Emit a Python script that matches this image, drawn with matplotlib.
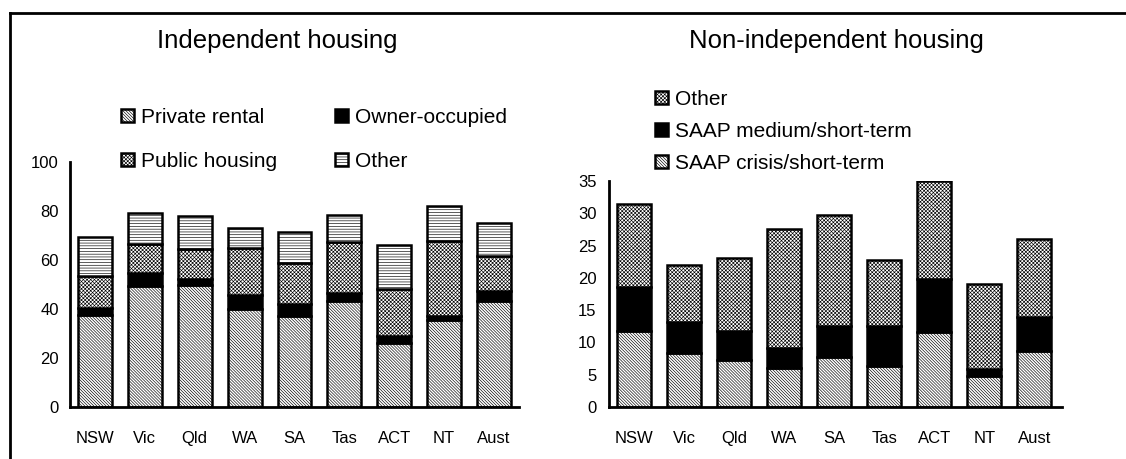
import numpy as np
import matplotlib
matplotlib.use('Agg')
import matplotlib.pyplot as plt
from matplotlib.lines import Line2D

plt.rcParams['font.family'] = ['Liberation Sans', 'DejaVu Sans']
plt.rcParams['hatch.linewidth'] = 0.45

states = ['NSW', 'Vic', 'Qld', 'WA', 'SA', 'Tas', 'ACT', 'NT', 'Aust']

# independent housing (%)
private_rental = [37.4, 49.4, 49.7, 39.9, 37.1, 43.3, 26.3, 35.4, 43.1]
owner_occupied = [3.1, 5.3, 2.7, 6.0, 4.8, 3.4, 2.8, 1.7, 4.1]
public_housing = [13.0, 12.0, 12.2, 19.1, 17.0, 20.6, 19.2, 30.7, 14.3]
other_indep = [15.9, 12.5, 13.4, 8.2, 12.4, 10.9, 17.7, 14.1, 13.6]

# non-independent housing (%)
saap_crisis = [11.8, 8.3, 7.3, 6.0, 7.7, 6.4, 11.6, 4.8, 8.7]
saap_medium = [6.8, 4.9, 4.4, 3.1, 4.8, 6.2, 8.2, 1.1, 5.2]
other_nonindep = [12.8, 8.8, 11.3, 18.5, 17.3, 10.1, 15.2, 13.1, 12.1]

DIAG = '\\' * 11
DOTS = 'x' * 9
HORZ = '-' * 6

fig = plt.figure(figsize=(11.26, 4.59), dpi=100)
W, H = 1126, 459

def px_axes(x0, x1, y0, y1):
    return fig.add_axes([x0 / W, 1 - y1 / H, (x1 - x0) / W, (y1 - y0) / H])

def stack(ax, series):
    x = np.arange(len(states))
    bottom = np.zeros(len(states))
    bars = []
    for vals, fc, hatch in series:
        b = ax.bar(x, vals, 0.68, bottom=bottom, facecolor=fc, hatch=hatch,
                   edgecolor='black', linewidth=1.8)
        bars.append(b)
        bottom = bottom + np.array(vals)
    return bars

def style(ax, ymax, step, ypad):
    ax.set_xlim(-0.5, 8.5)
    ax.set_ylim(0, ymax)
    ax.set_yticks(np.arange(0, ymax + 1, step))
    ax.set_xticks(np.arange(len(states)))
    ax.set_xticklabels(states)
    for s in ['top', 'right']:
        ax.spines[s].set_visible(False)
    for s in ['left', 'bottom']:
        ax.spines[s].set_linewidth(2)
    ax.tick_params(axis='x', length=0, pad=17, labelsize=12)
    ax.tick_params(axis='y', length=0, pad=ypad, labelsize=12)

ax1 = px_axes(70, 519, 162, 407)
b1 = stack(ax1, [(private_rental, 'white', DIAG),
                 (owner_occupied, 'black', None),
                 (public_housing, 'white', DOTS),
                 (other_indep, 'white', HORZ)])
style(ax1, 100, 20, 8)

ax2 = px_axes(609, 1062, 181, 407)
b2 = stack(ax2, [(saap_crisis, 'white', DIAG),
                 (saap_medium, 'black', None),
                 (other_nonindep, 'white', DOTS)])
style(ax2, 35, 5, 9)
ax2.set_xlim(-0.5, 8.55)

fig.text(277 / W, 1 - 48 / H, 'Independent housing', fontsize=18.5,
         ha='center', va='baseline')
fig.text(836 / W, 1 - 48 / H, 'Non-independent housing', fontsize=18.5,
         ha='center', va='baseline')

leg_kw = dict(frameon=False, fontsize=15, handlelength=0.6, handleheight=0.6,
              handletextpad=0.35, borderpad=0, borderaxespad=0, loc='upper left')
fig.legend([b1[0], b1[2], b1[1], b1[3]],
           ['Private rental', 'Public housing', 'Owner-occupied', 'Other'],
           ncol=2, columnspacing=2.8, labelspacing=1.2,
           bbox_to_anchor=(121 / W, 1 - 108 / H), **leg_kw)
fig.legend([b2[2], b2[1], b2[0]],
           ['Other', 'SAAP medium/short-term', 'SAAP crisis/short-term'],
           ncol=1, labelspacing=0.62,
           bbox_to_anchor=(655 / W, 1 - 90 / H), **leg_kw)

# frame lines along left and top
fig.add_artist(Line2D([10 / W, 10 / W], [0, 1 - 13 / H], color='black',
                      linewidth=2, transform=fig.transFigure))
fig.add_artist(Line2D([10 / W, 1], [1 - 13 / H, 1 - 13 / H], color='black',
                      linewidth=2, transform=fig.transFigure))

fig.savefig('out.png', dpi=100)
